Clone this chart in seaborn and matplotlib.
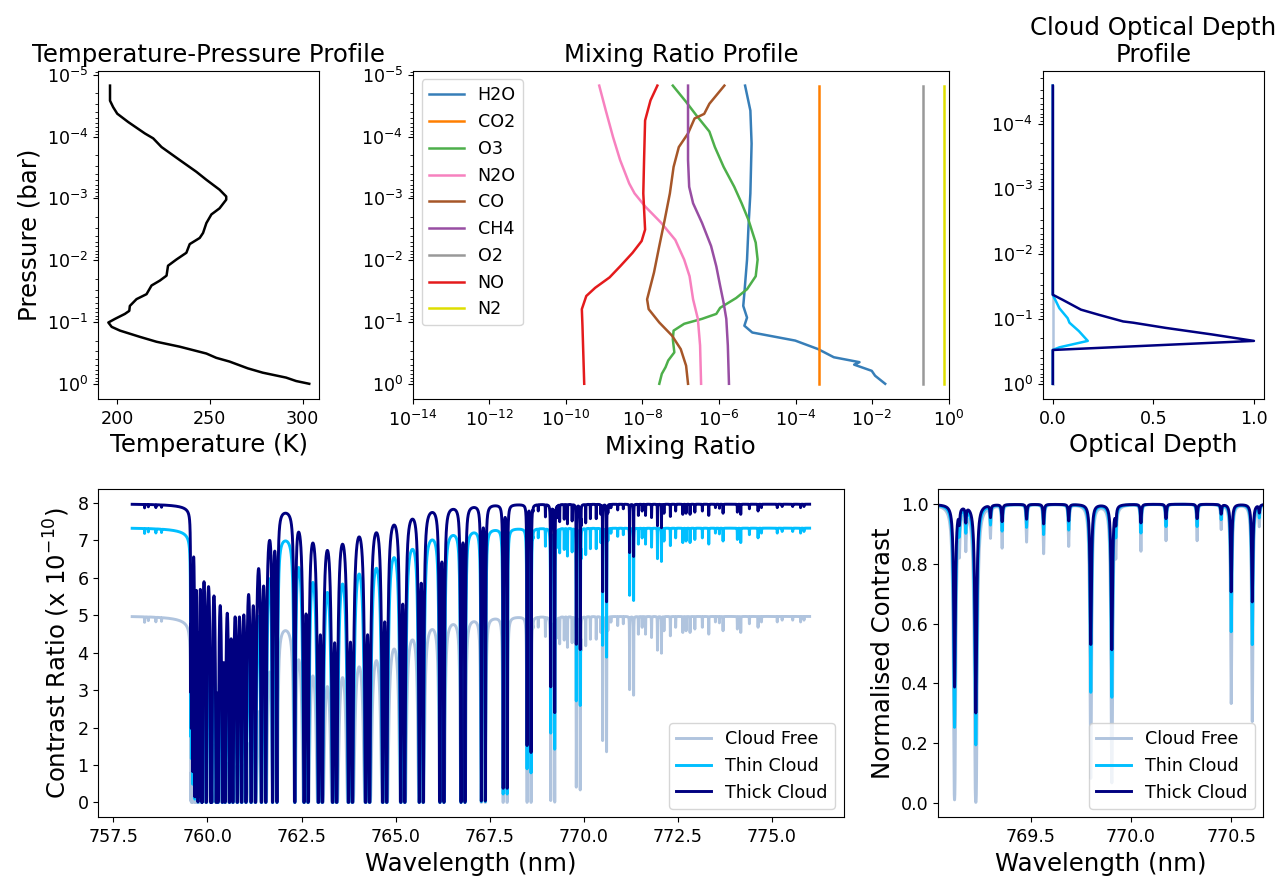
import numpy as np
import pandas as pd
import matplotlib
matplotlib.use("Agg")
import matplotlib.pyplot as plt
import seaborn as sns

# ---------------- Temperature-pressure profile ----------------
tp_pressure = [1.5e-5, 2.63e-5, 3.35e-5, 4.27e-5, 5.82e-5, 8.91e-5, 1.07e-4, 1.48e-4,
               2.40e-4, 3.72e-4, 5.01e-4, 7.24e-4, 9.33e-4, 1.05e-3, 1.45e-3, 1.82e-3,
               2.51e-3, 3.63e-3, 4.37e-3, 5.50e-3, 7.59e-3, 9.77e-3, 1.23e-2, 1.78e-2,
               2.14e-2, 2.57e-2, 3.55e-2, 4.27e-2, 5.50e-2, 6.61e-2, 7.41e-2, 8.91e-2,
               0.102, 0.120, 0.138, 0.174, 0.209, 0.251, 0.324, 0.380, 0.437, 0.562,
               0.661, 0.794, 0.902, 1.0]
tp_temperature = [196.1, 196.1, 197.8, 200.0, 205.9, 214.9, 219.4, 223.9,
                  233.7, 242.7, 248.1, 255.2, 258.8, 258.8, 255.2, 250.8,
                  248.1, 246.3, 244.5, 239.1, 237.3, 231.9, 227.4, 226.6,
                  223.0, 218.5, 215.8, 210.4, 206.8, 206.5, 204.1, 198.8,
                  195.2, 197.0, 201.5, 212.2, 221.2, 233.7, 248.1, 253.4, 260.6, 270.4,
                  278.5, 291.1, 296.5, 303.6]

# ---------------- Mixing ratio profiles ----------------
h2o_p = [1.5e-5, 3.8e-5, 1.3e-4, 8.3e-4, 2.8e-3, 9.8e-3, 3.4e-2, 5.5e-2, 8.5e-2, 0.115,
         0.148, 0.200, 0.275, 0.372, 0.447, 0.490, 0.617, 0.741, 1.0]
h2o_vmr = [4.8e-6, 6.6e-6, 7.1e-6, 6.6e-6, 5.9e-6, 5.4e-6, 4.6e-6, 4.3e-6, 5.4e-6, 4.6e-6,
           7.4e-6, 9.8e-5, 3.9e-4, 1.0e-3, 4.7e-3, 3.4e-3, 9.8e-3, 1.2e-2, 2.2e-2]

co2_p = [1.5e-5, 1.0]
co2_vmr = [4.2e-4, 4.2e-4]

o3_p = [1.5e-5, 2.75e-5, 4.6e-5, 8.3e-5, 1.48e-4, 3.1e-4, 6.5e-4, 1.2e-3, 2.24e-3, 5.2e-3,
        9.8e-3, 1.82e-2, 2.95e-2, 4.1e-2, 5.9e-2, 7.4e-2, 8.9e-2, 0.107, 0.138, 0.19,
        0.31, 0.42, 0.54, 0.69, 1.0]
o3_vmr = [6.2e-8, 1.38e-7, 2.6e-7, 5.6e-7, 7.8e-7, 1.32e-6, 2.5e-6, 3.9e-6, 5.9e-6, 9.1e-6,
          1.02e-5, 9.1e-6, 5.4e-6, 2.8e-6, 1.07e-6, 8.5e-7, 3.6e-7, 1.23e-7, 6.5e-8, 6.2e-8,
          6.8e-8, 4.7e-8, 4.0e-8, 3.2e-8, 2.75e-8]

n2o_p = [1.5e-5, 3.8e-5, 1.02e-4, 2.4e-4, 5.75e-4, 8.3e-4, 1.35e-3, 2.5e-3, 4.7e-3, 9.8e-3,
         1.82e-2, 4.3e-2, 8.9e-2, 0.24, 1.0]
n2o_vmr = [7.4e-10, 1.1e-9, 1.7e-9, 2.6e-9, 4.5e-9, 6.2e-9, 1.17e-8, 3.1e-8, 7.2e-8, 1.23e-7,
           1.7e-7, 2.1e-7, 2.8e-7, 3.2e-7, 3.4e-7]

co_p = [1.5e-5, 2.95e-5, 4.3e-5, 5.1e-5, 8.9e-5, 1.48e-4, 3.1e-4, 8.3e-4, 2.24e-3, 5.9e-3,
        1.58e-2, 4.3e-2, 6.2e-2, 0.102, 0.166, 0.275, 0.51, 1.0]
co_vmr = [1.38e-6, 5.6e-7, 4.1e-7, 2.3e-7, 1.55e-7, 8.9e-8, 6.5e-8, 5.2e-8, 3.8e-8, 2.75e-8,
          2.0e-8, 1.32e-8, 1.45e-8, 2.75e-8, 5.9e-8, 1.0e-7, 1.38e-7, 1.55e-7]

ch4_p = [1.5e-5, 2.4e-4, 6.5e-4, 1.2e-3, 2.5e-3, 5.9e-3, 1.26e-2, 2.6e-2, 4.9e-2, 8.9e-2,
         0.24, 1.0]
ch4_vmr = [1.55e-7, 1.55e-7, 1.66e-7, 2.1e-7, 3.6e-7, 6.2e-7, 8.5e-7, 1.07e-6, 1.32e-6, 1.55e-6,
           1.7e-6, 1.82e-6]

o2_p = [1.5e-5, 1.0]
o2_vmr = [0.21, 0.21]

no_p = [1.5e-5, 2.6e-5, 5.5e-5, 2.4e-4, 8.3e-4, 3.2e-3, 4.9e-3, 7.6e-3, 1.26e-2, 1.9e-2,
        2.8e-2, 3.8e-2, 6.2e-2, 0.115, 1.0]
no_vmr = [2.45e-8, 1.62e-8, 1.17e-8, 1.1e-8, 1.05e-8, 1.17e-8, 9.5e-9, 5.5e-9, 2.6e-9, 1.38e-9,
          5.8e-10, 3.4e-10, 2.6e-10, 2.7e-10, 3.0e-10]

n2_p = [1.5e-5, 1.0]
n2_vmr = [0.78, 0.78]

species_names = ["H2O", "CO2", "O3", "N2O", "CO", "CH4", "O2", "NO", "N2"]
species_colors = ["#377eb8", "#ff7f00", "#4daf4a", "#f781bf", "#a65628",
                  "#984ea3", "#999999", "#e41a1c", "#dede00"]

# ---------------- Cloud optical depth profiles ----------------
thick_p = [2.6e-5, 0.0427, 0.0513, 0.0724, 0.0871, 0.110, 0.115, 0.138, 0.174, 0.219, 0.302, 1.0]
thick_od = [0.0, 0.0, 0.05, 0.14, 0.23, 0.35, 0.40, 0.56, 0.79, 1.0, 0.0, 0.0]
thin_p = [2.6e-5, 0.0427, 0.069, 0.098, 0.115, 0.155, 0.219, 0.275, 0.302, 1.0]
thin_od = [0.0, 0.0, 0.033, 0.074, 0.083, 0.13, 0.174, 0.033, 0.0, 0.0]
clear_p = [2.6e-5, 1.0]
clear_od = [0.0, 0.0]

# ---------------- Spectral lines (O2 A band + weak lines) ----------------
# R branch doublets (band head near 759.56 nm)
r_branch_nm = [
    761.730, 761.846, 761.434, 761.550, 761.160, 761.276, 760.908, 761.024,
    760.677, 760.793, 760.468, 760.584, 760.281, 760.397, 760.115, 760.231,
    759.971, 760.087, 759.849, 759.965, 759.748, 759.864, 759.667, 759.783,
    759.609, 759.725, 759.573, 759.689, 759.558, 759.674, 759.560, 759.676,
    759.577, 759.693,
]
r_branch_tau = [
    87, 87, 189, 189, 261, 261, 295, 295,
    294, 294, 264, 264, 217, 217, 165, 165,
    116, 116, 76, 76, 47, 47, 27, 27,
    14.5, 14.5, 7.4, 7.4, 3.5, 3.5, 1.5, 1.5,
    0.66, 0.66,
]
# P branch (P1 single, then doublets)
p_branch_nm = [
    762.320,
    762.567, 762.673, 762.947, 763.053, 763.327, 763.433, 763.747, 763.853,
    764.202, 764.308, 764.657, 764.763, 765.137, 765.243, 765.627, 765.733,
    766.177, 766.283, 766.737, 766.843, 767.277, 767.383, 767.857, 767.963,
    768.492, 768.598, 769.121, 769.227, 769.800, 769.905, 770.500, 770.605,
    771.217, 771.323, 771.957, 772.063, 772.717, 772.823, 773.497, 773.603,
]
p_branch_tau = [
    124,
    270, 270, 373, 373, 422, 422, 420, 420,
    377, 377, 310, 310, 235, 235, 165, 165,
    109, 109, 67, 67, 38.5, 38.5, 20.7, 20.7,
    10.0, 11.0, 4.6, 6.5, 2.5, 2.7, 1.1, 1.3,
    0.50, 0.55, 0.20, 0.22, 0.08, 0.09, 0.03, 0.035,
]
weak_line_nm = [758.33, 758.43, 758.63, 758.78,
                768.65, 768.79, 768.98,
                769.145, 769.177, 769.300, 769.358, 769.480, 769.565, 769.690, 769.925,
                770.050, 770.175, 770.330, 770.450, 770.640,
                770.72, 770.90, 771.05, 771.45, 771.55, 771.64, 771.80,
                772.13, 772.30, 772.44, 772.63, 772.95, 773.15, 773.32, 773.70,
                774.08, 774.17, 774.40, 774.63, 774.72, 775.14, 775.27, 775.55, 775.76, 775.85]
weak_line_tau = [0.03, 0.02, 0.025, 0.02,
                 0.03, 0.055, 0.11,
                 0.128, 0.14, 0.11, 0.155, 0.134, 0.18, 0.15, 0.15,
                 0.17, 0.13, 0.13, 0.085, 0.07,
                 0.03, 0.05, 0.04, 0.10, 0.06, 0.10, 0.12,
                 0.08, 0.11, 0.06, 0.09, 0.07, 0.06, 0.10, 0.08,
                 0.07, 0.09, 0.04, 0.06, 0.03, 0.03, 0.02, 0.02, 0.03, 0.02]
line_hwhm_nm = 0.0028
line_wing_cutoff_nm = 2.5

# Cloud scenarios: continuum contrast (x1e-10), fraction of light seeing the full
# column, and fraction of the column above the cloud deck
scenario_names = ["Cloud Free", "Thin Cloud", "Thick Cloud"]
scenario_colors = ["lightsteelblue", "deepskyblue", "navy"]
scenario_continuum = [4.97, 7.33, 7.97]
scenario_clear_fraction = [1.0, 0.55, 0.30]
above_cloud_column = 0.13

wl_start, wl_stop, wl_step = 758.0, 776.0, 0.0005


def optical_depth(wl):
    """Sum of Lorentz lines, with the far wings cut off (and offset to zero)."""
    centres = np.array(r_branch_nm + p_branch_nm + weak_line_nm)
    peaks = np.array(r_branch_tau + p_branch_tau + weak_line_tau)
    floor = 1.0 / (1.0 + (line_wing_cutoff_nm / line_hwhm_nm) ** 2)
    tau = np.zeros_like(wl)
    for c, t in zip(centres, peaks):
        d = wl - c
        prof = 1.0 / (1.0 + (d / line_hwhm_nm) ** 2) - floor
        prof[np.abs(d) > line_wing_cutoff_nm] = 0.0
        tau += t * prof
    return tau


wl = np.arange(wl_start, wl_stop + wl_step / 2, wl_step)
tau = optical_depth(wl)
spectra = {}
for name, cont, frac in zip(scenario_names, scenario_continuum, scenario_clear_fraction):
    norm = frac * np.exp(-tau) + (1 - frac) * np.exp(-above_cloud_column * tau)
    spectra[name] = (cont * norm, norm)

# ---------------- Figure ----------------
plt.rcParams.update({
    "font.family": ["DejaVu Sans"],
    "xtick.labelsize": 12.6,
    "ytick.labelsize": 12.6,
    "axes.labelsize": 17.6,
    "axes.titlesize": 17.6,
    "legend.fontsize": 12.6,
    "xtick.major.pad": 4.5,
})

W, H = 1283, 881
fig = plt.figure(figsize=(W / 100, H / 100), dpi=100)


def box(x0, y0, x1, y1):
    return [x0 / W, 1 - y1 / H, (x1 - x0) / W, (y1 - y0) / H]


ax_tp = fig.add_axes(box(98.3, 70.7, 319.3, 398.7))
ax_mix = fig.add_axes(box(412.9, 70.7, 948.6, 398.7))
ax_cld = fig.add_axes(box(1042.7, 70.7, 1264.0, 398.7))
ax_spec = fig.add_axes(box(98.3, 489.3, 843.5, 817.3))
ax_norm = fig.add_axes(box(938.3, 489.3, 1263.3, 817.3))

profile_lw = 1.8
spectrum_lw = 2.1

# Temperature-pressure
sns.lineplot(x=tp_temperature, y=tp_pressure, sort=False, estimator=None,
             color="black", lw=profile_lw, ax=ax_tp)
ax_tp.set_yscale("log")
ax_tp.invert_yaxis()
ax_tp.set_title("Temperature-Pressure Profile")
ax_tp.set_xlabel("Temperature (K)")
ax_tp.set_ylabel("Pressure (bar)")

# Mixing ratios
profiles = [(h2o_vmr, h2o_p), (co2_vmr, co2_p), (o3_vmr, o3_p), (n2o_vmr, n2o_p),
            (co_vmr, co_p), (ch4_vmr, ch4_p), (o2_vmr, o2_p), (no_vmr, no_p), (n2_vmr, n2_p)]
for (vmr, p), name, col in zip(profiles, species_names, species_colors):
    sns.lineplot(x=vmr, y=p, sort=False, estimator=None, color=col, lw=profile_lw,
                 label=name, ax=ax_mix)
ax_mix.set_xscale("log")
ax_mix.set_yscale("log")
ax_mix.set_xlim(1e-14, 1)
ax_mix.set_ylim(ax_tp.get_ylim())
ax_mix.set_title("Mixing Ratio Profile")
ax_mix.set_xlabel("Mixing Ratio")
ax_mix.legend(loc="upper left")

# Cloud optical depth
for (od, p), name, col in zip([(clear_od, clear_p), (thin_od, thin_p), (thick_od, thick_p)],
                              scenario_names, scenario_colors):
    sns.lineplot(x=od, y=p, sort=False, estimator=None, color=col, lw=profile_lw, ax=ax_cld)
ax_cld.set_yscale("log")
ax_cld.invert_yaxis()
ax_cld.set_title("Cloud Optical Depth\nProfile")
ax_cld.set_xlabel("Optical Depth")

# Contrast spectra
for name, col in zip(scenario_names, scenario_colors):
    sns.lineplot(x=wl, y=spectra[name][0], sort=False, estimator=None, color=col,
                 lw=spectrum_lw, label=name, ax=ax_spec)
ax_spec.set_xlabel("Wavelength (nm)")
ax_spec.set_ylabel(r"Contrast Ratio (x $10^{-10}$)")
ax_spec.legend(loc="lower right")

# Normalised zoom
zoom = (wl > 768.9) & (wl < 770.8)
for name, col in zip(scenario_names, scenario_colors):
    sns.lineplot(x=wl[zoom], y=spectra[name][1][zoom], sort=False, estimator=None,
                 color=col, lw=spectrum_lw, label=name, ax=ax_norm)
ax_norm.set_xlim(769.04, 770.66)
ax_norm.set_xlabel("Wavelength (nm)")
ax_norm.set_ylabel("Normalised Contrast")
ax_norm.legend(loc="lower right")

fig.savefig("out.png", dpi=100)
